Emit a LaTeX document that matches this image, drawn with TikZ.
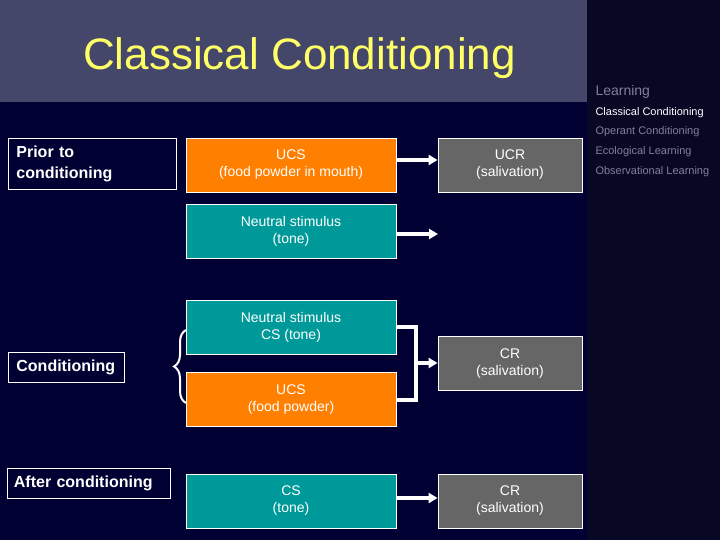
\documentclass[tikz,border=0pt]{standalone}
\usepackage{fontspec}
\setmainfont{Liberation Sans}
\usetikzlibrary{arrows.meta,decorations.pathreplacing}
\begin{document}
\begin{tikzpicture}[x=1pt,y=-1pt,line width=1pt,
		colbox/.style={draw=white,line width=0.8pt,minimum height=54pt,inner sep=0pt,text=white,align=center,font=\fontsize{14}{17}\selectfont},
		ucsbox/.style={colbox,fill=ucsorange,minimum width=210pt},
		csbox/.style={colbox,fill=csteal,minimum width=210pt},
		respbox/.style={colbox,fill=respgray,minimum width=144pt},
		stagebox/.style={draw=white,line width=0.8pt,text=white,anchor=north west,inner xsep=8pt,inner ysep=0pt,align=left,font=\bfseries\fontsize{16}{21}\selectfont},
		menuitem/.style={anchor=base west,inner sep=0pt,font=\fontsize{11}{13}\selectfont},
		arrow/.style={white,line width=4pt,-{Triangle[length=9pt,width=10pt]}}]
		%Farben
		\definecolor{bgnavy}{RGB}{0,0,51}
		\definecolor{panelnavy}{RGB}{8,8,36}
		\definecolor{banner}{RGB}{69,71,106}
		\definecolor{titleyellow}{RGB}{255,255,102}
		\definecolor{ucsorange}{RGB}{255,128,0}
		\definecolor{csteal}{RGB}{0,153,153}
		\definecolor{respgray}{RGB}{102,102,102}
		\definecolor{menugray}{RGB}{128,128,152}
		
		%Hintergrund
		\fill [bgnavy] (0,0) rectangle (720,540);
		\fill [panelnavy] (587,0) rectangle (720,540);
		\fill [banner] (0,0) rectangle (587,102);
		\useasboundingbox (0,0) rectangle (720,540);
		
		%Titel
		\node[anchor=base,inner sep=0pt,text=titleyellow,font=\fontsize{44}{50}\selectfont] (title) at (299.5,70) {Classical Conditioning};
		
		%Menue
		\node[menuitem,text=menugray,font=\fontsize{14}{16}\selectfont] (learning) at (595,96) {Learning};
		\foreach \y/\t/\c [count=\i] in {116/Classical Conditioning/white, 135/Operant Conditioning/menugray,
				155/Ecological Learning/menugray, 174.5/Observational Learning/menugray}
			\node[menuitem,text=\c] (menu\i) at (595,\y) {\t};
		
		%Phasen
		\node[stagebox,text width=152pt,minimum height=51pt] (prior) at (8,138) {Prior to\\conditioning};
		\node[stagebox,text width=100pt,minimum height=30pt] (cond) at (8,352) {Conditioning};
		\node[stagebox,inner xsep=7pt,text width=149pt,minimum height=30pt] (after) at (6.5,468) {After conditioning};
		
		%Kaesten
		\node[ucsbox] (ucs) at (291,165) {UCS\\(food powder in mouth)};
		\node[respbox] (ucr) at (510,165) {UCR\\(salivation)};
		\node[csbox] (neutral) at (291,231) {Neutral stimulus\\(tone)};
		\node[csbox] (cs) at (291,327) {Neutral stimulus\\CS (tone)};
		\node[ucsbox] (ucsfood) at (291,399.5) {UCS\\(food powder)};
		\node[respbox] (cr) at (510,363.5) {CR\\(salivation)};
		\node[csbox] (cstone) at (291,501) {CS\\(tone)};
		\node[respbox] (crafter) at (510,501) {CR\\(salivation)};
		
		%Klammer
		\draw [white,line width=2pt,decorate,decoration={brace,amplitude=12pt}] (186,403) -- (186,330);
		
		%Pfeile
		\coordinate (toneend) at (438,234);
		\coordinate (join) at (416,363);
		\draw [arrow] ([yshift=5pt]ucs.east) -- ([yshift=5pt]ucr.west);
		\draw [arrow] ([yshift=-3pt]neutral.east) -- (toneend);
		\draw [white,line width=4pt] (cs.east) -| (join) |- (ucsfood.east);
		\draw [arrow] (join) -- (join -| cr.west);
		\draw [arrow] ([yshift=3pt]cstone.east) -- ([yshift=3pt]crafter.west);
	\end{tikzpicture}
\end{document}
